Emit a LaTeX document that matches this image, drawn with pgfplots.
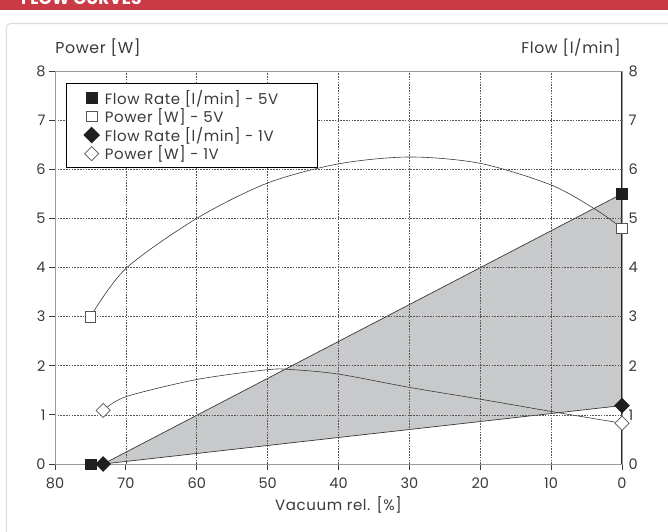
\documentclass[border=0pt]{standalone}
\usepackage{fontspec}
\setmainfont{Poppins}
\newfontfamily\lab[LetterSpace=4]{Poppins}
\usepackage{pgfplots}
\pgfplotsset{compat=1.18}
\definecolor{txt}{HTML}{3A3A3A}
\definecolor{grd}{HTML}{555555}
\definecolor{shade}{HTML}{C8C9CB}
\definecolor{hdr}{HTML}{C93A46}
\definecolor{frame}{HTML}{9A9A9A}
\newcommand{\legtxt}[1]{\makebox[207pt][l]{#1}}
\begin{document}
\begin{tikzpicture}[x=1pt,y=1pt]
\useasboundingbox (0,0) rectangle (668,-531);
\fill[white] (0,0) rectangle (668,-531);
\begin{scope}
\clip (0,0) rectangle (668,-531);
\draw[black!13, line width=1.2, rounded corners=4] (6.5,-23.5) rectangle (690,-560);
\fill[hdr] (0,0) rectangle (668,-9.5);
\clip (0,0) rectangle (668,-9.5);
\node[anchor=base west, inner sep=0, text=white, font=\bfseries\fontsize{17}{17}\selectfont] at (21,-4.5) {FLOW CURVES};
\end{scope}
\node[anchor=center, text=txt, font=\lab\fontsize{15.8}{15.8}\selectfont] at (98,-48) {Power [W]};
\node[anchor=center, text=txt, font=\lab\fontsize{15.6}{15.6}\selectfont] at (571,-48) {Flow [l/min]};
\begin{axis}[
  at={(55pt,-464pt)}, anchor=south west, scale only axis,
  width=567pt, height=393pt,
  x dir=reverse, xmin=0, xmax=80, ymin=0, ymax=8,
  xtick={0,10,...,80}, ytick={0,1,...,8},
  xtick pos=bottom, ytick pos=left,
  tick align=outside, major tick length=6pt,
  tick style={color=txt, line width=0.8pt},
  grid=major,
  grid style={dash pattern=on 1.6pt off 1.2pt, line width=0.6pt, color=grd},
  axis line style={color=frame, line width=0.9pt},
  axis on top,
  /pgf/number format/assume math mode=true,
  ticklabel style={text=txt, font=\fontsize{14.5}{14.5}\selectfont},
  xticklabel style={yshift=-4pt},
  xlabel={Vacuum rel. [\%]},
  xlabel style={text=txt, font=\lab\fontsize{15}{15}\selectfont, yshift=-1pt},
  legend image code/.code={%
    \path (0pt,0pt) (31pt,0pt);
    \draw[#1] plot coordinates {(20.5pt,0pt)};},
  legend style={at={(rel axis cs:0.0,1)}, anchor=north west, xshift=11pt, yshift=-12pt,
    draw=black, line width=1.2pt, fill=white, font=\lab\fontsize{15}{15}\selectfont, text=txt,
    row sep=-1pt, inner xsep=4pt, inner ysep=4.5pt},
  legend cell align=left,
]
% shaded flow region (Flow 5V upper edge, Flow 1V lower edge)
\addplot[fill=shade, draw=txt, line width=0.7pt, forget plot] coordinates {(73.2,0) (0,5.5) (0,1.19)} -- cycle;
% Power 5V curve
\addplot[smooth, draw=txt, line width=0.6pt, forget plot] coordinates {
(75,3.0) (70,3.98) (60,5.0) (50,5.72) (40,6.11) (30,6.25) (20,6.12) (10,5.68) (3.6,5.17) (0,4.8)};
% Power 1V curve
\addplot[smooth, draw=txt, line width=0.6pt, forget plot] coordinates {
(73.2,1.09) (70,1.37) (60,1.72) (50,1.92) (46.4,1.92) (40,1.83) (30,1.56) (20,1.32) (10,1.07) (0,0.83)};
% markers
\addplot[only marks, mark=square*, mark size=5.3pt, mark options={fill=black!88, draw=black!88}] coordinates {(75,0) (0,5.5)};
\addlegendentry{\legtxt{Flow Rate [l/min] - 5V}}
\addplot[only marks, mark=square*, mark size=5.3pt, mark options={fill=white, draw=grd, line width=0.7pt}] coordinates {(75,3.0) (0,4.8)};
\addlegendentry{\legtxt{Power [W] - 5V}}
\addplot[only marks, mark=square*, mark size=5.3pt, mark options={rotate=45, fill=black!88, draw=black!88}] coordinates {(73.2,0) (0,1.19)};
\addlegendentry{\legtxt{Flow Rate [l/min] - 1V}}
\addplot[only marks, mark=square*, mark size=5.0pt, mark options={rotate=45, fill=white, draw=grd, line width=0.7pt}] coordinates {(73.2,1.09) (0,0.83)};
\addlegendentry{\legtxt{Power [W] - 1V}}
\draw[black!85, line width=1pt] (axis cs:0,-0.14) -- (axis cs:0,8);
\end{axis}
\begin{axis}[
  at={(55pt,-464pt)}, anchor=south west, scale only axis,
  width=567pt, height=393pt,
  xmin=0, xmax=80, ymin=0, ymax=8,
  hide x axis, axis y line*=right,
  ytick={0,1,...,8}, major tick length=0pt,
  axis line style={draw=none},
  /pgf/number format/assume math mode=true,
  yticklabel style={text=txt, font=\fontsize{14.5}{14.5}\selectfont, xshift=3pt},
]
\addplot[draw=none] coordinates {(0,0)};
\end{axis}
\end{tikzpicture}
\end{document}
